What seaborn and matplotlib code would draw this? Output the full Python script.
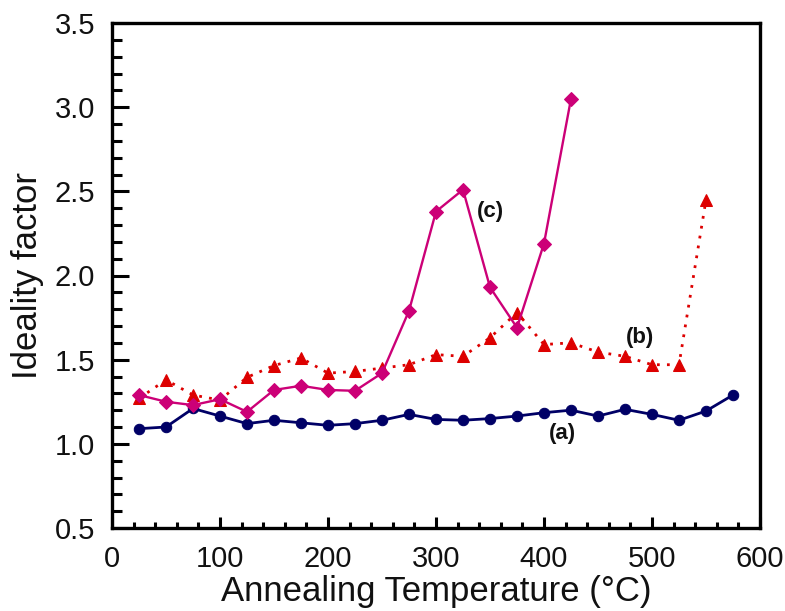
import matplotlib
matplotlib.use("Agg")
import matplotlib.pyplot as plt
from matplotlib.ticker import MultipleLocator
import seaborn as sns
import pandas as pd

# ---- data ----
temp_a = [25, 50, 75, 100, 125, 150, 175, 200, 225, 250, 275, 300, 325, 350,
          375, 400, 425, 450, 475, 500, 525, 550, 575]
ideality_a = [1.09, 1.10, 1.21, 1.165, 1.12, 1.14, 1.125, 1.11, 1.12, 1.14,
              1.175, 1.145, 1.14, 1.15, 1.165, 1.185, 1.20, 1.165, 1.205,
              1.175, 1.14, 1.195, 1.29]

temp_b = [25, 50, 75, 100, 125, 150, 175, 200, 225, 250, 275, 300, 325, 350,
          375, 400, 425, 450, 475, 500, 525, 550]
ideality_b = [1.27, 1.38, 1.29, 1.26, 1.395, 1.465, 1.51, 1.42, 1.43, 1.45,
              1.47, 1.53, 1.52, 1.63, 1.78, 1.59, 1.60, 1.545, 1.52, 1.47,
              1.47, 2.45]

temp_c = [25, 50, 75, 100, 125, 150, 175, 200, 225, 250, 275, 300, 325, 350,
          375, 400, 425]
ideality_c = [1.29, 1.25, 1.23, 1.265, 1.19, 1.32, 1.345, 1.32, 1.315, 1.42,
              1.79, 2.38, 2.51, 1.93, 1.69, 2.19, 3.05]

labels = ["(a)", "(b)", "(c)"]
label_pos = [(417, 1.06), (489, 1.63), (350, 2.38)]

x_label = "Annealing Temperature (\u00b0C)"
y_label = "Ideality factor"

# ---- style ----
sns.set_theme(style="white")
plt.rcParams["font.family"] = ["Liberation Sans", "DejaVu Sans"]

fig = plt.figure(figsize=(7.85, 6.11), dpi=100)
ax = fig.add_axes([112 / 785, 1 - 528 / 611, (760 - 112) / 785, (528 - 23) / 611])

df_a = pd.DataFrame({"T": temp_a, "n": ideality_a})
df_b = pd.DataFrame({"T": temp_b, "n": ideality_b})
df_c = pd.DataFrame({"T": temp_c, "n": ideality_c})

sns.lineplot(data=df_a, x="T", y="n", ax=ax, color="#000066", linewidth=2.0,
             marker="o", markersize=7.5, markeredgecolor="#000066",
             estimator=None, sort=False)
sns.lineplot(data=df_b, x="T", y="n", ax=ax, color="#dd0000", linewidth=2.0,
             linestyle=(0, (1, 2.6)), marker="^", markersize=9,
             markeredgecolor="#dd0000", estimator=None, sort=False)
sns.lineplot(data=df_c, x="T", y="n", ax=ax, color="#cc0077", linewidth=1.7,
             marker="D", markersize=7.5, markeredgecolor="#cc0077",
             estimator=None, sort=False)

for lab, (lx, ly) in zip(labels, label_pos):
    ax.text(lx, ly, lab, fontsize=16, fontweight="bold", color="#111111",
            ha="center", va="center")

ax.set_xlim(0, 600)
ax.set_ylim(0.5, 3.5)
ax.xaxis.set_major_locator(MultipleLocator(100))
ax.xaxis.set_minor_locator(MultipleLocator(20))
ax.yaxis.set_major_locator(MultipleLocator(0.5))
ax.yaxis.set_minor_locator(MultipleLocator(0.1))
ax.yaxis.set_major_formatter(matplotlib.ticker.FormatStrFormatter("%.1f"))

ax.tick_params(axis="x", which="major", direction="in", length=8, width=2.2,
               labelsize=21, pad=12, color="black", labelcolor="#111111")
ax.tick_params(axis="x", which="minor", direction="in", length=4, width=2.2,
               color="black")
ax.tick_params(axis="y", which="major", direction="in", length=12, width=2.2,
               labelsize=21, pad=12, color="black", labelcolor="#111111")
ax.tick_params(axis="y", which="minor", direction="in", length=7, width=2.2,
               color="black")
ax.tick_params(bottom=True, left=True, which="both")

for s in ax.spines.values():
    s.set_visible(True)
    s.set_color("black")
    s.set_linewidth(2.4)

ax.set_xlabel(x_label, fontsize=25, color="#111111", labelpad=2)
ax.set_ylabel(y_label, fontsize=25, color="#111111", labelpad=8)

fig.savefig("out.png", dpi=100, facecolor="white")
